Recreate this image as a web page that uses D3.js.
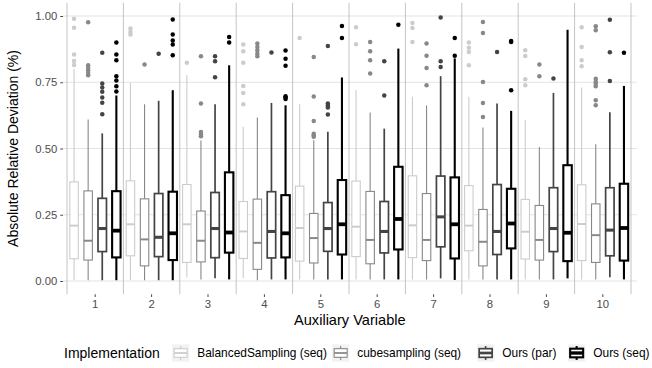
<!DOCTYPE html>
<html><head><meta charset="utf-8">
<script src="https://cdn.jsdelivr.net/npm/d3@7"></script>
<style>
html,body{margin:0;padding:0;background:#fff;}
svg{display:block;font-family:"Liberation Sans",Arial,Helvetica,sans-serif;}
</style></head>
<body><svg id="chart" width="652" height="368"></svg>
<script>
const categories = ["1","2","3","4","5","6","7","8","9","10"];
const series = ["BalancedSampling (seq)","cubesampling (seq)","Ours (par)","Ours (seq)"];
const yTicks = [0, 0.25, 0.5, 0.75, 1.0];
const colors = ["#CCCCCC","#888888","#444444","#000000"];

// per series (rows) × category (columns)
const whiskerLow = [
  [0.003,0.003,0.013,0.010,0.006,0.006,0.006,0.006,0.006,0.006],
  [0.003,0.003,0.006,0.003,0.006,0.006,0.006,0.006,0.006,0.006],
  [0.003,0.003,0.010,0.006,0.006,0.006,0.010,0.006,0.006,0.014],
  [0.003,0.003,0.006,0.006,0.006,0.006,0.004,0.006,0.010,0.006]
];
const q1 = [
  [0.084,0.095,0.070,0.085,0.075,0.092,0.088,0.114,0.083,0.077],
  [0.079,0.057,0.072,0.044,0.068,0.065,0.077,0.057,0.079,0.070],
  [0.111,0.092,0.088,0.087,0.112,0.106,0.129,0.100,0.111,0.095],
  [0.089,0.079,0.107,0.089,0.100,0.119,0.085,0.123,0.075,0.077]
];
const median = [
  [0.209,0.214,0.214,0.187,0.200,0.205,0.210,0.209,0.186,0.215],
  [0.152,0.157,0.152,0.144,0.162,0.155,0.155,0.148,0.155,0.173],
  [0.198,0.165,0.198,0.187,0.198,0.187,0.242,0.187,0.198,0.192],
  [0.190,0.180,0.183,0.180,0.214,0.234,0.214,0.217,0.182,0.200]
];
const q3 = [
  [0.374,0.378,0.364,0.300,0.358,0.377,0.397,0.360,0.308,0.363],
  [0.340,0.310,0.264,0.309,0.255,0.338,0.330,0.270,0.285,0.291],
  [0.312,0.330,0.334,0.337,0.296,0.300,0.396,0.364,0.352,0.352],
  [0.339,0.337,0.410,0.324,0.381,0.431,0.391,0.348,0.437,0.367]
];
const whiskerHigh = [
  [0.800,0.747,0.776,0.582,0.667,0.720,0.695,0.695,0.607,0.730],
  [0.609,0.667,0.530,0.617,0.531,0.636,0.662,0.579,0.506,0.516],
  [0.557,0.680,0.667,0.672,0.563,0.575,0.773,0.670,0.710,0.637],
  [0.700,0.720,0.814,0.663,0.768,0.877,0.840,0.642,0.948,0.736]
];
const outliers = [
  [[0.815,0.83,0.855,0.956,0.99],[0.93,0.94,0.953],[0.824],[0.667,0.709,0.736,0.824,0.867,0.892],[0.917],[0.893,0.958],[0.902,0.955,0.974],[0.814,0.864,0.88,0.9],[0.739,0.761,0.849,0.871],[0.81,0.833,0.883,0.958]],
  [[0.776,0.785,0.795,0.804,0.814,0.976],[0.817],[0.546,0.553,0.562,0.67,0.848],[0.848,0.858,0.871,0.883,0.896],[0.544,0.55,0.556,0.604,0.696,0.845],[0.783,0.833,0.867,0.902],[0.739,0.804,0.85,0.896],[0.619,0.672,0.751,0.936,0.977],[0.773,0.817],[0.663,0.682,0.735,0.745,0.752,0.763,0.946,0.961]],
  [[0.629,0.673,0.692,0.714,0.73,0.745,0.861],[0.858],[0.769,0.829,0.848],[0.862],[0.628,0.655,0.662,0.67,0.887],[0.70,0.829],[0.808,0.829,0.994],[0.864],[0.764],[0.755,0.863,0.986]],
  [[0.715,0.735,0.757,0.773,0.833,0.855,0.90],[0.852,0.892,0.908,0.93,0.987],[0.90,0.921],[0.687,0.692,0.697,0.812,0.839,0.87],[0.917,0.962],[0.967],[0.85,0.917],[0.72,0.902,0.906],[],[0.861]]
];

const lineW = [1.1, 1.1, 1.7, 2.1];

const svg = d3.select("#chart");
const panel = {left: 63, right: 636.7, top: 2.75, bottom: 294.25};

const x = d3.scaleBand().domain(categories).range([67, 631]).padding(0);
const xs = d3.scaleBand().domain(series).range([0, x.bandwidth()]).padding(0);
const y = d3.scaleLinear().domain([-0.05, 1.05]).range([panel.bottom, panel.top]);
const boxW = xs.bandwidth() * 0.6;

// horizontal grid
svg.append("g").selectAll("line").data(yTicks).join("line")
  .attr("x1", panel.left).attr("x2", panel.right)
  .attr("y1", d => y(d)).attr("y2", d => y(d))
  .attr("stroke", "#e3e3e3").attr("stroke-width", 1.1);

// vertical separators
const seps = categories.map(c => x(c)).concat([x.range()[1]]);
svg.append("g").selectAll("line").data(seps).join("line")
  .attr("x1", d => d).attr("x2", d => d)
  .attr("y1", panel.top).attr("y2", panel.bottom)
  .attr("stroke", "#c4c4c4").attr("stroke-width", 1);

// y axis
const yAxis = svg.append("g").attr("transform", `translate(${panel.left},0)`)
  .call(d3.axisLeft(y).tickValues(yTicks).tickFormat(d3.format(".2f")).tickSize(2.75).tickPadding(3));
yAxis.select(".domain").remove();
yAxis.selectAll(".tick line").attr("stroke", "#333").attr("stroke-width", 0.9);
yAxis.selectAll(".tick text").attr("fill", "#4d4d4d").style("font-size", "11.3px")
  .style("font-family", "'Liberation Sans',Arial,sans-serif");

// x axis
const xAxis = svg.append("g").attr("transform", `translate(0,${panel.bottom})`)
  .call(d3.axisBottom(x).tickSize(2.75).tickPadding(3));
xAxis.select(".domain").remove();
xAxis.selectAll(".tick line").attr("stroke", "#333").attr("stroke-width", 0.9);
xAxis.selectAll(".tick text").attr("fill", "#4d4d4d").style("font-size", "11.3px")
  .style("font-family", "'Liberation Sans',Arial,sans-serif");

// boxes
series.forEach((s, i) => {
  const g = svg.append("g");
  categories.forEach((c, j) => {
    const cx = x(c) + xs(s) + xs.bandwidth() / 2;
    g.selectAll(null).data(outliers[i][j]).join("circle")
      .attr("cx", cx).attr("cy", d => y(d)).attr("r", 2.25).attr("fill", colors[i]);
    g.append("line").attr("x1", cx).attr("x2", cx)
      .attr("y1", y(q3[i][j])).attr("y2", y(whiskerHigh[i][j]))
      .attr("stroke", colors[i]).attr("stroke-width", lineW[i]);
    g.append("line").attr("x1", cx).attr("x2", cx)
      .attr("y1", y(q1[i][j])).attr("y2", y(whiskerLow[i][j]))
      .attr("stroke", colors[i]).attr("stroke-width", lineW[i]);
    g.append("rect").attr("x", cx - boxW / 2).attr("width", boxW)
      .attr("y", y(q3[i][j])).attr("height", y(q1[i][j]) - y(q3[i][j]))
      .attr("fill", "#fff").attr("stroke", colors[i]).attr("stroke-width", lineW[i]);
    g.append("line").attr("x1", cx - boxW / 2).attr("x2", cx + boxW / 2)
      .attr("y1", y(median[i][j])).attr("y2", y(median[i][j]))
      .attr("stroke", colors[i]).attr("stroke-width", lineW[i] * 1.8);
  });
});

// axis titles
svg.append("text").attr("x", (panel.left + panel.right) / 2).attr("y", 325)
  .attr("text-anchor", "middle").style("font-size", "14.6px").attr("fill", "#000")
  .text("Auxiliary Variable");
svg.append("text").attr("transform", `translate(18,${(panel.top + panel.bottom) / 2}) rotate(-90)`)
  .attr("text-anchor", "middle").style("font-size", "14px").attr("fill", "#000")
  .text("Absolute Relative Deviation (%)");

// legend
const lg = svg.append("g");
const ly = 353;
const keyX = [172, 332, 477, 568];
lg.append("text").attr("x", 64).attr("y", ly + 5).style("font-size", "14px")
  .text("Implementation");
series.forEach((s, i) => {
  const k = 17.3, kx = keyX[i], ky = ly - k / 2;
  const key = lg.append("g");
  key.append("rect").attr("x", kx).attr("y", ky).attr("width", k).attr("height", k).attr("fill", "#f2f2f2");
  const cxk = kx + k / 2;
  key.append("line").attr("x1", cxk).attr("x2", cxk).attr("y1", ky + k * 0.1).attr("y2", ky + k * 0.9)
    .attr("stroke", colors[i]).attr("stroke-width", lineW[i]);
  key.append("rect").attr("x", kx + k * 0.125).attr("width", k * 0.75).attr("y", ky + k * 0.25).attr("height", k * 0.5)
    .attr("fill", "#fff").attr("stroke", colors[i]).attr("stroke-width", lineW[i]);
  key.append("line").attr("x1", kx + k * 0.125).attr("x2", kx + k * 0.875).attr("y1", ky + k / 2).attr("y2", ky + k / 2)
    .attr("stroke", colors[i]).attr("stroke-width", lineW[i] * 1.6);
  lg.append("text").attr("x", kx + k + 8).attr("y", ly + 4).style("font-size", "11.9px").text(s);
});
</script>
</body></html>
